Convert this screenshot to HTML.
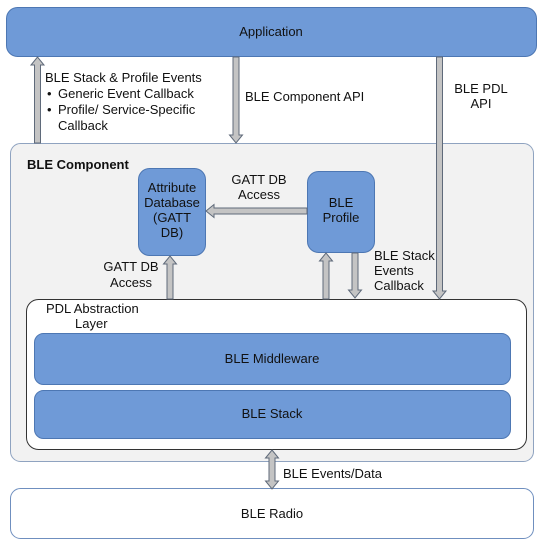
<!DOCTYPE html>
<html><head><meta charset="utf-8"><style>
html,body{margin:0;padding:0;background:#fff}
svg{display:block}
text{font-family:"Liberation Sans",Arial,sans-serif;font-size:13px;fill:#111}
</style></head><body>
<svg width="542" height="548" viewBox="0 0 542 548">
<defs>
<style>.a{fill:#c4c4c4;stroke:#5f6a7a;stroke-width:1}</style>
</defs>
<rect x="6.5" y="7.5" width="530" height="49" rx="11" fill="#6f9ad7" stroke="#4d77b3"/>
<text x="271" y="36" text-anchor="middle">Application</text>
<rect x="10.5" y="143.5" width="523" height="318" rx="10" fill="#f2f2f2" stroke="#8fa3c0"/>
<text x="27" y="169" font-weight="bold">BLE Component</text>
<rect x="138.5" y="168.5" width="67" height="87" rx="11" fill="#6f9ad7" stroke="#4d77b3"/>
<text x="172" y="192" text-anchor="middle">Attribute</text>
<text x="172" y="207" text-anchor="middle">Database</text>
<text x="172" y="222" text-anchor="middle">(GATT</text>
<text x="172" y="237" text-anchor="middle">DB)</text>
<rect x="307.5" y="171.5" width="67" height="81" rx="11" fill="#6f9ad7" stroke="#4d77b3"/>
<text x="341" y="207" text-anchor="middle">BLE</text>
<text x="341" y="222" text-anchor="middle">Profile</text>
<rect x="26.5" y="299.5" width="500" height="150" rx="12" fill="#fff" stroke="#333"/>
<text x="46" y="313">PDL Abstraction</text>
<text x="75" y="328">Layer</text>
<rect x="34.5" y="333.5" width="476" height="51" rx="9" fill="#6f9ad7" stroke="#4d77b3"/>
<text x="272" y="363" text-anchor="middle">BLE Middleware</text>
<rect x="34.5" y="390.5" width="476" height="48" rx="9" fill="#6f9ad7" stroke="#4d77b3"/>
<text x="272" y="418" text-anchor="middle">BLE Stack</text>
<rect x="10.5" y="488.5" width="523" height="50" rx="10" fill="#fff" stroke="#6f8fbf"/>
<text x="272" y="518" text-anchor="middle">BLE Radio</text>

<polygon class="a" points="34.5,143 34.5,65 31,65 37.5,57 44,65 40.5,65 40.5,143"/>
<polygon class="a" points="233,57 233,135 229.5,135 236,143 242.5,135 239,135 239,57"/>
<polygon class="a" points="436.5,57 436.5,291 433,291 439.5,299 446,291 442.5,291 442.5,57"/>
<polygon class="a" points="167,299 167,264 163.5,264 170,256 176.5,264 173,264 173,299"/>
<polygon class="a" points="323,299 323,261 319.5,261 326,253 332.5,261 329,261 329,299"/>
<polygon class="a" points="352,253 352,290 348.5,290 355,298 361.5,290 358,290 358,253"/>
<polygon class="a" points="307,208 214,208 214,204.5 206,211 214,217.5 214,214 307,214"/>
<polygon class="a" points="272,450 278.5,458 275,458 275,481 278.5,481 272,489 265.5,481 269,481 269,458 265.5,458"/>

<text x="45" y="82">BLE Stack &amp; Profile Events</text>
<text x="47" y="98">•</text><text x="58" y="98">Generic Event Callback</text>
<text x="47" y="114">•</text><text x="58" y="114">Profile/ Service-Specific</text>
<text x="58" y="130">Callback</text>
<text x="245" y="101">BLE Component API</text>
<text x="481" y="93" text-anchor="middle">BLE PDL</text>
<text x="481" y="108" text-anchor="middle">API</text>
<text x="259" y="184" text-anchor="middle">GATT DB</text>
<text x="259" y="199" text-anchor="middle">Access</text>
<text x="131" y="271" text-anchor="middle">GATT DB</text>
<text x="131" y="287" text-anchor="middle">Access</text>
<text x="374" y="260">BLE Stack</text>
<text x="374" y="275">Events</text>
<text x="374" y="290">Callback</text>
<text x="283" y="478">BLE Events/Data</text>
</svg>
</body></html>
